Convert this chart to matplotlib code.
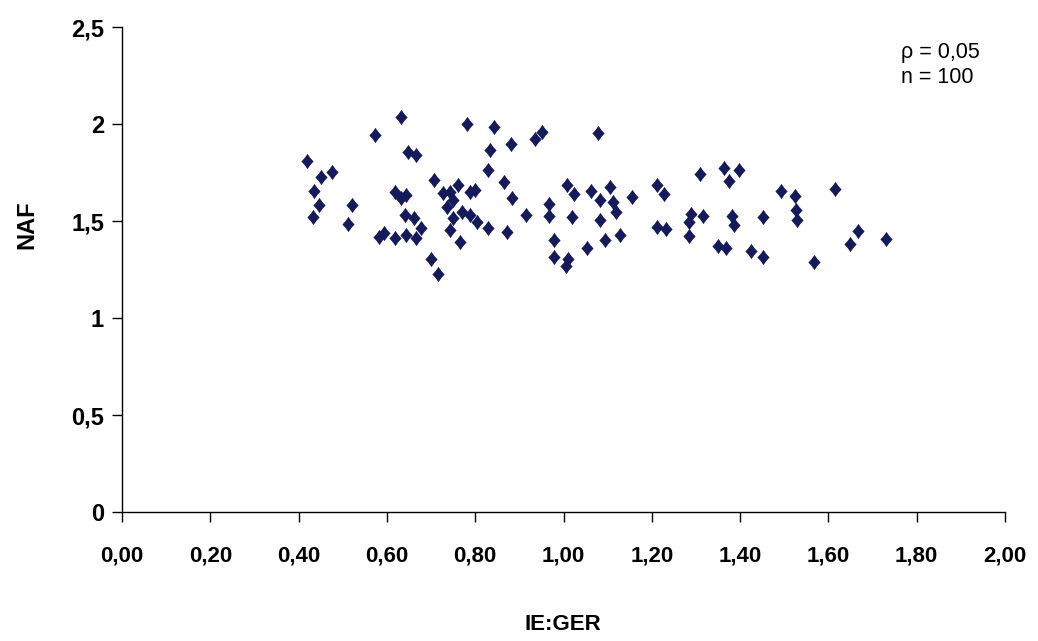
import matplotlib
matplotlib.use("Agg")
import matplotlib.pyplot as plt
import numpy as np

# IE:GER ratio vs NAF
ie_ger = [0.632, 0.572, 0.781, 0.842, 0.880, 0.935, 0.952, 0.647, 0.667, 0.834,
          0.418, 0.451, 0.476, 0.829, 0.707, 0.434, 0.762, 0.865, 0.446, 0.433,
          0.521, 0.513, 0.618, 0.632, 0.643, 0.728, 0.743, 0.735, 0.750, 0.788,
          0.800, 0.884, 0.769, 0.788, 0.803, 0.750, 0.915, 0.641, 0.662, 0.677,
          0.593, 0.581, 0.618, 0.643, 0.667, 0.743, 0.830, 0.873, 0.766, 0.699,
          0.715,
          1.078, 1.310, 1.363, 1.398, 1.374, 1.007, 1.023, 1.062, 1.106, 1.083,
          1.111, 1.118, 1.155, 1.212, 1.228, 1.492, 1.524, 0.967, 0.967, 1.019,
          1.082, 1.289, 1.284, 1.315, 1.382, 1.386, 1.453, 1.527, 1.528, 0.979,
          1.212, 1.232, 1.284, 1.094, 1.129, 1.054, 0.979, 1.010, 1.006, 1.351,
          1.368, 1.425, 1.453,
          1.616, 1.666, 1.650, 1.730, 1.568]
naf = [2.035, 1.943, 2.000, 1.986, 1.898, 1.923, 1.957, 1.854, 1.840, 1.864,
       1.808, 1.728, 1.753, 1.764, 1.710, 1.655, 1.684, 1.699, 1.582, 1.519,
       1.584, 1.483, 1.651, 1.617, 1.634, 1.643, 1.651, 1.574, 1.608, 1.651,
       1.660, 1.617, 1.548, 1.531, 1.496, 1.514, 1.531, 1.531, 1.517, 1.462,
       1.437, 1.419, 1.414, 1.428, 1.411, 1.454, 1.462, 1.442, 1.393, 1.302,
       1.227,
       1.955, 1.742, 1.775, 1.763, 1.708, 1.684, 1.639, 1.655, 1.677, 1.608,
       1.598, 1.546, 1.625, 1.686, 1.638, 1.653, 1.629, 1.586, 1.527, 1.519,
       1.505, 1.535, 1.493, 1.527, 1.527, 1.479, 1.519, 1.557, 1.505, 1.404,
       1.471, 1.459, 1.424, 1.404, 1.428, 1.359, 1.316, 1.302, 1.270, 1.370,
       1.359, 1.347, 1.316,
       1.663, 1.450, 1.381, 1.406, 1.290]

x_ticks = [0.0, 0.2, 0.4, 0.6, 0.8, 1.0, 1.2, 1.4, 1.6, 1.8, 2.0]
x_labels = ["0,00", "0,20", "0,40", "0,60", "0,80", "1,00",
            "1,20", "1,40", "1,60", "1,80", "2,00"]
y_ticks = [0, 0.5, 1, 1.5, 2, 2.5]
y_labels = ["0", "0,5", "1", "1,5", "2", "2,5"]

plt.rcParams['font.family'] = ['Liberation Sans', 'DejaVu Sans']

fig = plt.figure(figsize=(10.38, 6.41), dpi=100)
ax = fig.add_axes([122/1038, 1 - 512/641, (1005 - 122)/1038, (512 - 27)/641])

# slightly tall diamond, edges pinched just a little like the Excel marker
diamond = [(0, 1), (0.37, 0.47), (0.8, 0), (0.37, -0.47), (0, -1),
           (-0.37, -0.47), (-0.8, 0), (-0.37, 0.47), (0, 1)]
ax.plot(ie_ger, naf, linestyle='none', marker=diamond, markersize=11,
        color='#141a5c', markeredgewidth=0)

ax.set_xlim(0, 2)
ax.set_ylim(0, 2.5)
ax.set_xticks(x_ticks)
ax.set_xticklabels(x_labels, fontsize=16, fontweight='bold')
ax.set_yticks(y_ticks)
ax.set_yticklabels(y_labels, fontsize=17, fontweight='bold')
ax.tick_params(axis='x', length=7, width=1, pad=17, direction='out')
ax.tick_params(axis='y', length=7, width=1, pad=6, direction='out')

for s in ['top', 'right']:
    ax.spines[s].set_visible(False)
for s in ['left', 'bottom']:
    ax.spines[s].set_linewidth(1)

fig.text(27/1038, 1 - 225/641, "NAF", rotation=90, fontsize=17,
         fontweight='bold', ha='center', va='center')
fig.text(563/1038, 1 - 625/641, "IE:GER", fontsize=16,
         fontweight='bold', ha='center', va='center')
fig.text(901/1038, 1 - 42/641, "ρ = 0,05\nn = 100",
         fontsize=15.5, va='top', ha='left', linespacing=1.25)

fig.savefig("out.png", dpi=100)
